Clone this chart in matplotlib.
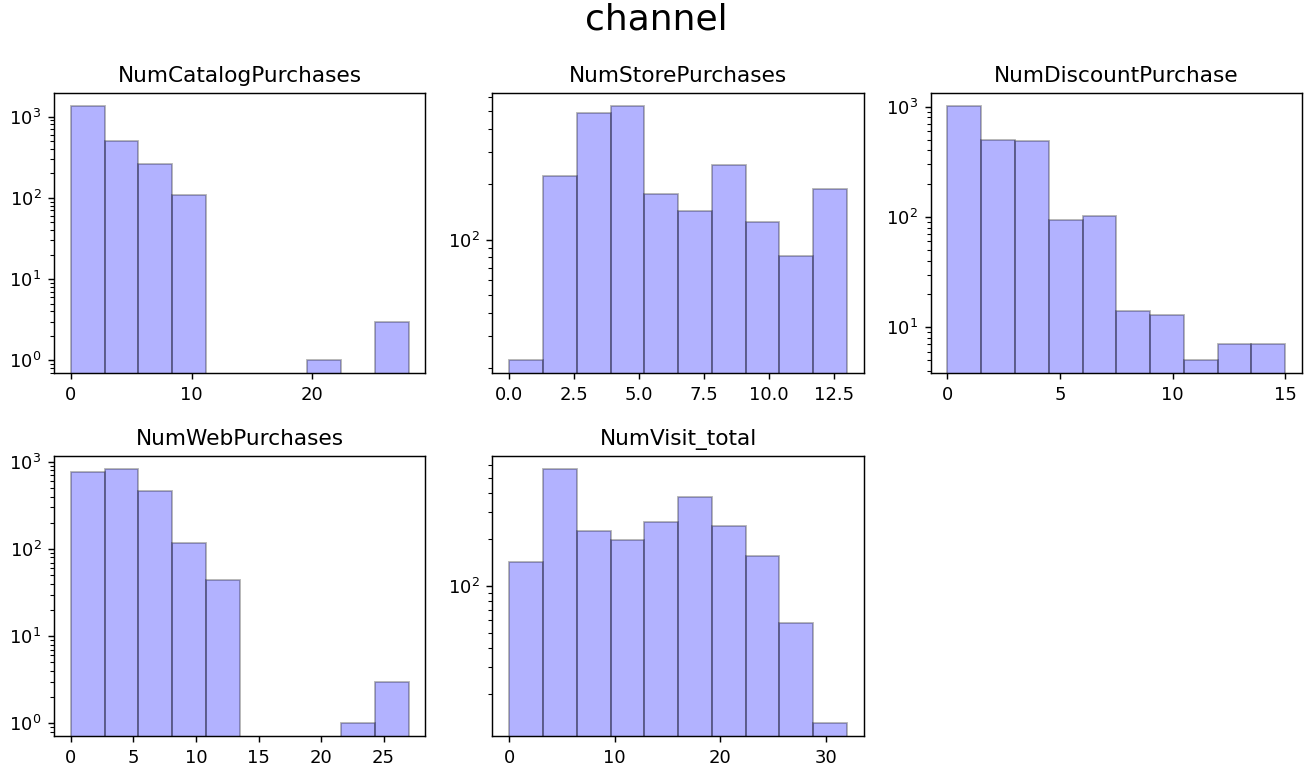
import matplotlib
import matplotlib.pyplot as plt
import numpy as np

matplotlib.use('Agg')

# channel columns, 10 bins each, counts
columns = ["NumCatalogPurchases", "NumStorePurchases", "NumDiscountPurchase",
           "NumWebPurchases", "NumVisit_total"]
ranges = [(0, 28), (0, 13), (0, 15), (0, 27), (0, 32)]

catalog_counts = [1359, 506, 262, 109, 0, 0, 0, 1, 0, 3]
store_counts = [22, 223, 490, 535, 178, 143, 255, 125, 81, 188]
discount_counts = [1016, 497, 486, 94, 101, 14, 13, 5, 7, 7]
web_counts = [776, 836, 462, 118, 44, 0, 0, 0, 1, 3]
visit_counts = [143, 571, 225, 197, 260, 377, 244, 155, 58, 13]

all_counts = [catalog_counts, store_counts, discount_counts, web_counts, visit_counts]


def plot_channel_hists():
    """Grid of log-scale histograms for the purchase channel columns."""
    fig, axes = plt.subplots(2, 3, figsize=(1312 / 130, 774 / 130), dpi=130)
    fig.subplots_adjust(left=0.0412, right=0.9924, top=0.8798, bottom=0.0491,
                        wspace=0.18, hspace=0.296)
    fig.suptitle("channel", fontsize=20, y=0.997)

    for ax, name, (lo, hi), counts in zip(axes.flat, columns, ranges, all_counts):
        counts = np.asarray(counts, dtype=float)
        n_bins = len(counts)
        width = (hi - lo) / n_bins
        # one sample per bin (left edge + half width), weighted by its count
        samples = lo + width * (np.arange(n_bins) + 0.5)
        ax.hist(samples, bins=n_bins, range=(lo, hi), weights=counts, log=True,
                color='blue', alpha=0.3, edgecolor='black')
        ax.set_title(name)

    fig.delaxes(axes.flat[5])
    fig.savefig("out.png", dpi=130)


if __name__ == "__main__":
    plot_channel_hists()
